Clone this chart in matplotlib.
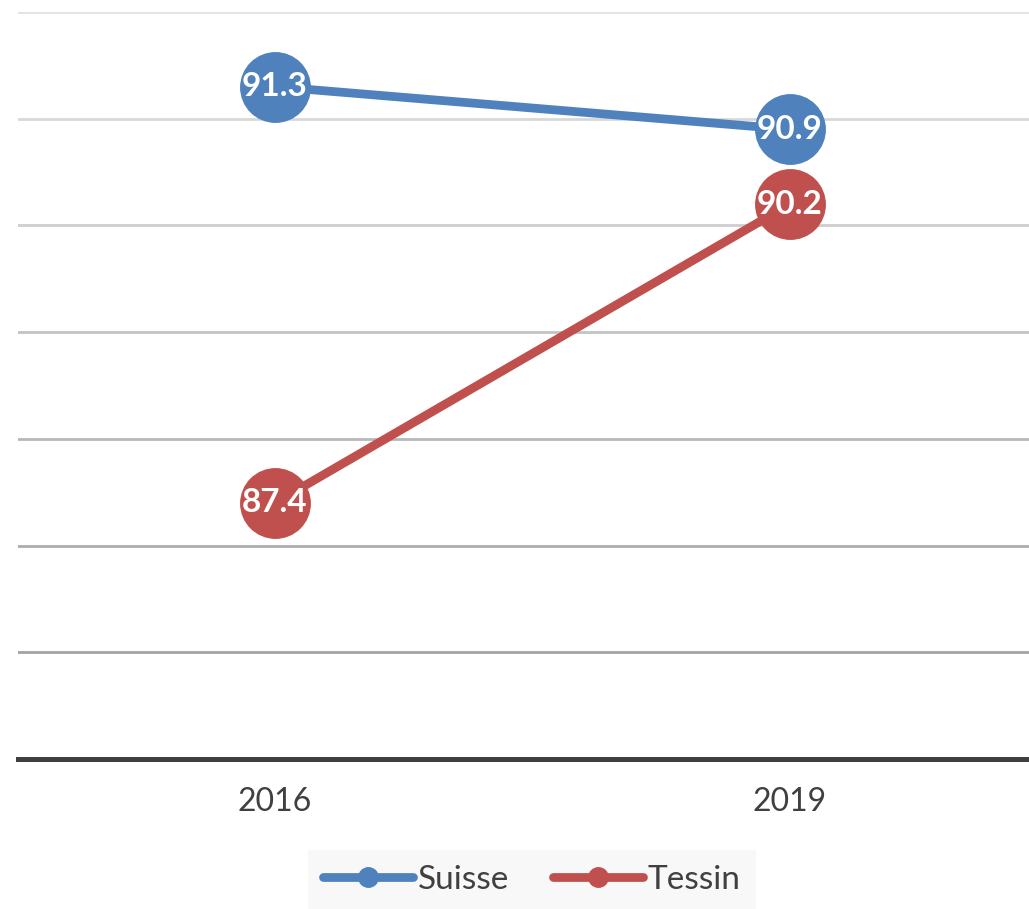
import matplotlib
matplotlib.use('Agg')
import matplotlib.pyplot as plt
from matplotlib.lines import Line2D

years = ['2016', '2019']
suisse = [91.3, 90.9]
tessin = [87.4, 90.2]

blue = '#4f81bd'
red = '#c0504d'

plt.rcParams['font.family'] = ['Lato', 'DejaVu Sans']

fig = plt.figure(figsize=(10.29, 9.09), dpi=100)
ax = fig.add_axes([17.5 / 1029, 150 / 909, 1030 / 1029, 747 / 909])

x = range(len(years))
for vals, col in [(suisse, blue), (tessin, red)]:
    ax.plot(x, vals, color=col, lw=6.3, marker='o', ms=50, solid_capstyle='round', zorder=3)
    for xi, v in zip(x, vals):
        ax.text(xi, v, f'{v:.1f}', color='white', fontsize=24, fontweight='bold',
                ha='center', va='center', zorder=4)

# gridlines get darker toward the bottom
grid_cols = ['#a3a3a3', '#adadad', '#b8b8b8', '#c3c3c3', '#cecece', '#d8d8d8', '#e2e2e2']
for g, c in zip(range(86, 93), grid_cols):
    ax.axhline(g, color=c, lw=2, zorder=1)

ax.set_xlim(-0.5, 1.5)
ax.set_ylim(85, 92)
ax.set_yticks([])
ax.set_xticks(list(x))
ax.set_xticklabels(years, fontsize=23, color='#404040')
ax.tick_params(axis='x', length=0, pad=20)
for s in ['top', 'right', 'left']:
    ax.spines[s].set_visible(False)
ax.spines['bottom'].set_color('#404040')
ax.spines['bottom'].set_linewidth(3.6)
ax.spines['bottom'].set_zorder(5)

handles = [Line2D([], [], color=blue, lw=6.3, marker='o', ms=14, solid_capstyle='round'),
           Line2D([], [], color=red, lw=6.3, marker='o', ms=14, solid_capstyle='round')]
leg = fig.legend(handles, ['Suisse', 'Tessin'], loc='center', bbox_to_anchor=(532 / 1029, (909 - 880) / 909),
                 ncol=2, fontsize=24, frameon=True, fancybox=False, handlelength=2.7,
                 handletextpad=0.15, columnspacing=1.3, borderpad=0.45)
leg.get_frame().set_facecolor('#f7f7f7')
leg.get_frame().set_edgecolor('none')
for t in leg.get_texts():
    t.set_color('#404040')

fig.savefig('out.png', dpi=100)
